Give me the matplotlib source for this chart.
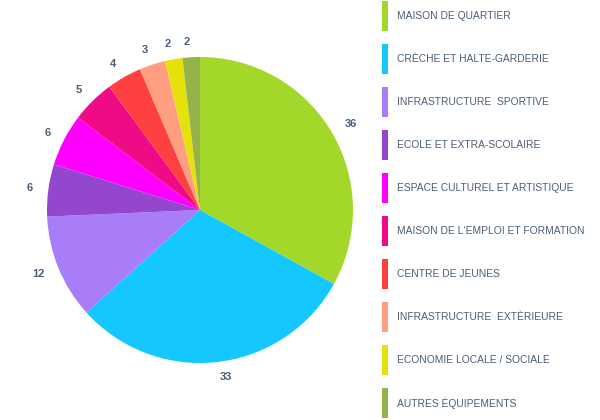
import matplotlib
matplotlib.use("Agg")
import matplotlib.pyplot as plt
from matplotlib.patches import Rectangle

plt.rcParams['font.family'] = ['Liberation Sans', 'DejaVu Sans']

categories = ['MAISON DE QUARTIER', 'CRÈCHE ET HALTE-GARDERIE', 'INFRASTRUCTURE  SPORTIVE',
              'ECOLE ET EXTRA-SCOLAIRE', 'ESPACE CULTUREL ET ARTISTIQUE',
              'MAISON DE L\u2018EMPLOI ET FORMATION', 'CENTRE DE JEUNES',
              'INFRASTRUCTURE  EXTÈRIEURE', 'ECONOMIE LOCALE / SOCIALE', 'AUTRES ÉQUIPEMENTS']
values = [36, 33, 12, 6, 6, 5, 4, 3, 2, 2]
colors = ['#a3d82a', '#14c8ff', '#a97cf8', '#9347cf', '#ff00ff',
          '#ef0a86', '#ff4040', '#ff9e80', '#e5e10a', '#94b34a']

text_col = '#4b5e75'

fig = plt.figure(figsize=(6, 4.2), dpi=100)
ax = fig.add_axes([47 / 600, 57 / 420, 306 / 600, 306 / 420])
ax.pie(values, colors=colors, startangle=90, counterclock=False,
       labels=[str(v) for v in values], labeldistance=1.1,
       wedgeprops=dict(linewidth=0),
       textprops=dict(color=text_col, fontsize=8, fontweight='bold'))
ax.set_xlim(-1, 1)
ax.set_ylim(-1, 1)
ax.set_aspect('equal')

# légende
for i, (cat, col) in enumerate(zip(categories, colors)):
    yc = 16 + i * 43
    fig.add_artist(Rectangle((382 / 600, 1 - (yc + 15) / 420), 6 / 600, 30 / 420,
                             transform=fig.transFigure, facecolor=col, edgecolor='none'))
    fig.text(397 / 600, 1 - yc / 420, cat, fontsize=7.4, color=text_col,
             ha='left', va='center')

fig.savefig('out.png', dpi=100)
